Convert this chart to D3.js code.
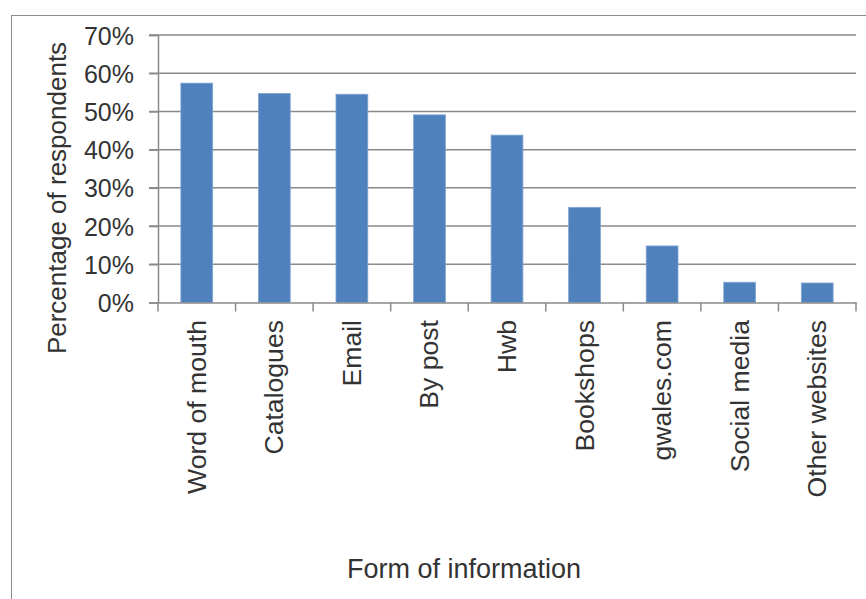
<!DOCTYPE html>
<html><head><meta charset="utf-8">
<script src="https://cdn.jsdelivr.net/npm/d3@7"></script>
<style>body{margin:0;background:#fff}svg{display:block}text{font-family:"Liberation Sans",Arial,sans-serif;fill:#333}</style>
</head><body><svg id="c" width="866" height="599"></svg>
<script>
const categories = ["Word of mouth","Catalogues","Email","By post","Hwb","Bookshops","gwales.com","Social media","Other websites"];
const values = [57.4, 54.7, 54.5, 49.1, 43.8, 24.9, 14.8, 5.3, 5.1];
const yTicks = [0,10,20,30,40,50,60,70];
const xTitle = "Form of information";
const yTitle = "Percentage of respondents";

const svg = d3.select("#c");
svg.append("rect").attr("x",11.5).attr("y",15.5).attr("width",900).attr("height",700)
  .attr("fill","none").attr("stroke","#8c8c8c").attr("stroke-width",1);

const x0=158, x1=856, y0=302.5, y1=35;
const x = d3.scaleBand().domain(categories).range([x0,x1]).paddingInner(0.59).paddingOuter(0.295);
const xb = d3.scaleBand().domain(categories).range([x0,x1]);
const y = d3.scaleLinear().domain([0,70]).range([y0,y1]);

// gridlines
svg.append("g").selectAll("line").data(yTicks.filter(d=>d>0)).join("line")
  .attr("x1",149).attr("x2",x1).attr("y1",d=>y(d)).attr("y2",d=>y(d))
  .attr("stroke","#8a8a8a").attr("stroke-width",1.5);

// bars
svg.append("g").selectAll("rect").data(values).join("rect")
  .attr("x",(d,i)=>x(categories[i])).attr("width",x.bandwidth())
  .attr("y",d=>y(d)).attr("height",d=>y0-y(d))
  .attr("fill","#4F81BD").attr("stroke","#7fa3d3").attr("stroke-width",0.8);

// y axis
const ya = svg.append("g").attr("transform",`translate(${x0},0)`)
  .call(d3.axisLeft(y).tickValues(yTicks).tickFormat(d=>d+"%").tickSize(9).tickPadding(15));
ya.select(".domain").attr("stroke","#8a8a8a").attr("stroke-width",1.5);
ya.selectAll(".tick line").attr("stroke","#8a8a8a").attr("stroke-width",1.5);
ya.selectAll(".tick text").attr("font-size",25).attr("font-family","Liberation Sans, Arial, sans-serif").attr("fill","#333").attr("dy","0.36em");

// x axis baseline + ticks
const xa = svg.append("g").attr("transform",`translate(0,${y0})`)
  .call(d3.axisBottom(xb).tickSize(0).tickFormat(""));
xa.select(".domain").attr("stroke","#8a8a8a").attr("stroke-width",1.5);
xa.selectAll(".tick").remove();
const bounds = categories.map(c=>xb(c)).concat([x1]);
xa.selectAll("line.b").data(bounds).join("line").attr("class","b")
  .attr("x1",d=>d).attr("x2",d=>d).attr("y1",0).attr("y2",9)
  .attr("stroke","#8a8a8a").attr("stroke-width",1.5);

// category labels
svg.append("g").selectAll("text").data(categories).join("text")
  .attr("transform",d=>`translate(${xb(d)+xb.bandwidth()/2+9},320) rotate(-90)`)
  .attr("text-anchor","end").attr("font-size",26.6).text(d=>d);

// titles
svg.append("text").attr("x",464).attr("y",578).attr("text-anchor","middle").attr("font-size",27).text(xTitle);
svg.append("text").attr("transform","translate(66,198) rotate(-90)").attr("text-anchor","middle").attr("font-size",26).text(yTitle);
</script></body></html>
